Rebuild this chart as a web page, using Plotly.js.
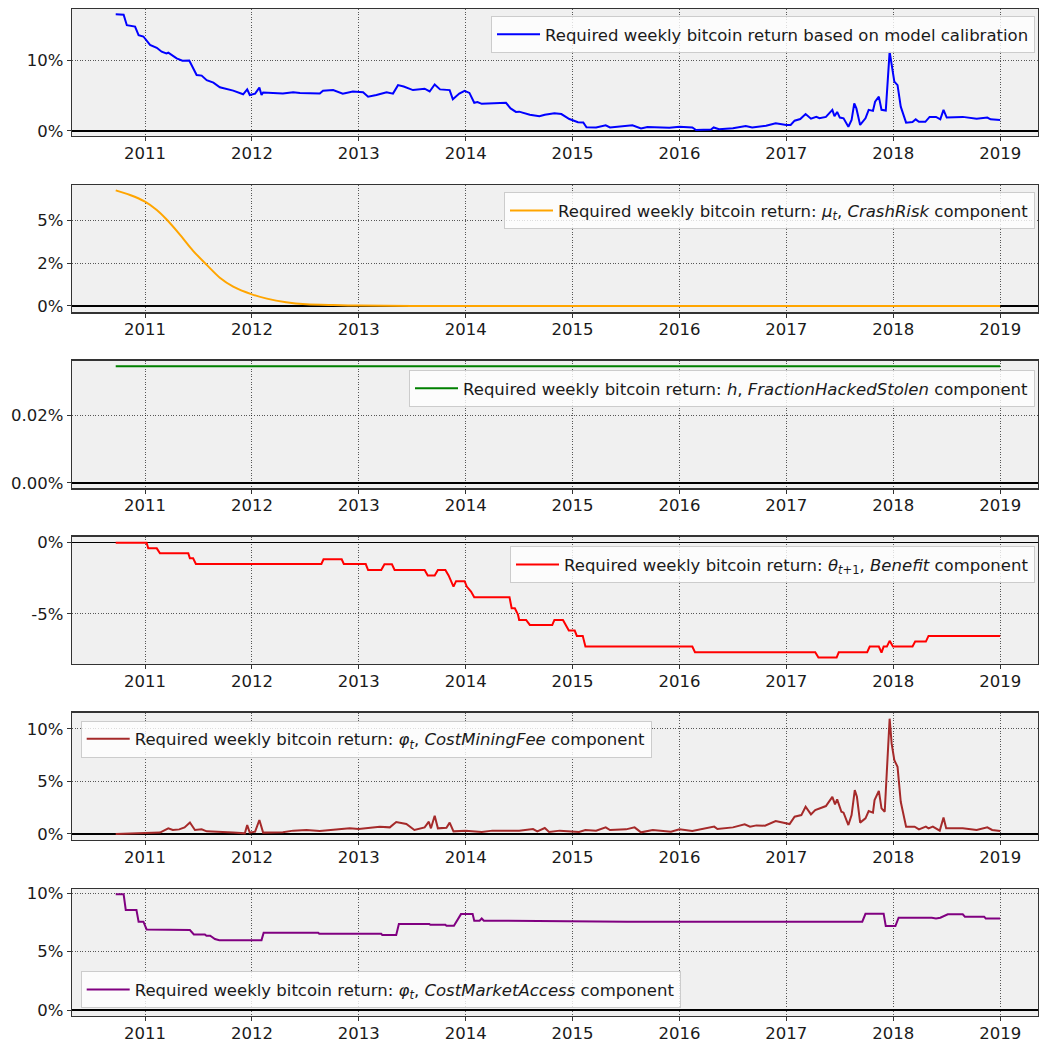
<!DOCTYPE html>
<html>
<head>
<meta charset="utf-8">
<script src="https://cdn.plot.ly/plotly-3.0.1.min.js"></script>
<style>
  html, body { margin: 0; padding: 0; background: #ffffff; }
  #chart { width: 1039px; height: 1043px; }
</style>
</head>
<body>
<div id="chart"></div>
<script>
// ---------- data (values in percent, x in decimal years) ----------
const yearTicks = [2011, 2012, 2013, 2014, 2015, 2016, 2017, 2018, 2019];
const yearLabels = ["2011", "2012", "2013", "2014", "2015", "2016", "2017", "2018", "2019"];

// Panel 1: required weekly bitcoin return based on model calibration
const totalX = [2010.726, 2010.80, 2010.83, 2010.907, 2010.94, 2010.985, 2011.047, 2011.11, 2011.156, 2011.20, 2011.218, 2011.296, 2011.35, 2011.414, 2011.483, 2011.53, 2011.577, 2011.64, 2011.70, 2011.825, 2011.918, 2011.956, 2011.98, 2012.03, 2012.07, 2012.09, 2012.105, 2012.29, 2012.386, 2012.45, 2012.635, 2012.665, 2012.76, 2012.85, 2012.945, 2013.04, 2013.087, 2013.165, 2013.26, 2013.32, 2013.367, 2013.42, 2013.507, 2013.616, 2013.663, 2013.71, 2013.76, 2013.85, 2013.88, 2013.94, 2013.99, 2014.035, 2014.08, 2014.11, 2014.15, 2014.377, 2014.42, 2014.47, 2014.50, 2014.60, 2014.69, 2014.74, 2014.83, 2014.895, 2014.97, 2015.05, 2015.10, 2015.13, 2015.22, 2015.31, 2015.35, 2015.56, 2015.64, 2015.70, 2015.905, 2016.0, 2016.12, 2016.155, 2016.295, 2016.32, 2016.37, 2016.50, 2016.62, 2016.68, 2016.81, 2016.90, 2017.0, 2017.04, 2017.077, 2017.13, 2017.18, 2017.23, 2017.28, 2017.31, 2017.37, 2017.43, 2017.45, 2017.475, 2017.50, 2017.535, 2017.58, 2017.61, 2017.635, 2017.655, 2017.69, 2017.74, 2017.77, 2017.81, 2017.83, 2017.865, 2017.89, 2017.93, 2017.966, 2017.985, 2018.01, 2018.04, 2018.07, 2018.12, 2018.18, 2018.21, 2018.24, 2018.30, 2018.34, 2018.40, 2018.44, 2018.47, 2018.50, 2018.65, 2018.78, 2018.88, 2018.91, 2019.0];
const totalY = [16.55, 16.5, 15.0, 14.8, 13.6, 13.4, 12.2, 11.8, 11.25, 11.0, 11.1, 10.3, 9.97, 10.0, 7.94, 7.85, 7.2, 6.85, 6.2, 5.72, 5.2, 5.9, 5.1, 5.3, 6.15, 5.1, 5.45, 5.3, 5.5, 5.4, 5.3, 5.7, 5.8, 5.3, 5.6, 5.5, 4.87, 5.1, 5.5, 5.3, 6.5, 6.3, 5.8, 6.0, 5.6, 6.6, 5.9, 5.8, 4.5, 5.3, 5.7, 5.4, 4.0, 4.1, 3.85, 4.0, 3.2, 2.7, 2.74, 2.3, 2.1, 2.3, 2.5, 2.4, 1.7, 1.23, 1.2, 0.52, 0.5, 0.8, 0.5, 0.8, 0.35, 0.57, 0.45, 0.6, 0.5, 0.14, 0.2, 0.5, 0.25, 0.4, 0.7, 0.5, 0.75, 1.1, 0.85, 0.85, 1.46, 1.7, 2.4, 1.75, 2.0, 1.8, 2.0, 3.0, 2.1, 2.7, 1.9, 1.8, 0.6, 1.55, 3.9, 3.2, 0.85, 1.8, 3.0, 2.85, 4.15, 4.87, 3.0, 2.9, 11.25, 9.1, 7.0, 6.5, 3.45, 1.18, 1.27, 1.65, 1.3, 1.3, 2.0, 2.0, 1.65, 3.0, 1.9, 2.0, 1.75, 1.9, 1.65, 1.55];

// Panel 2: mu_t, CrashRisk component
const crashX = [2010.726, 2010.86, 2011.0, 2011.11, 2011.2, 2011.33, 2011.45, 2011.577, 2011.70, 2011.825, 2012.0, 2012.14, 2012.32, 2012.51, 2012.76, 2013.0, 2013.5, 2019.0];
const crashY = [6.75, 6.48, 6.09, 5.6, 5.06, 4.14, 3.22, 2.40, 1.65, 1.13, 0.68, 0.43, 0.22, 0.1, 0.05, 0.02, 0.005, 0.0];

// Panel 3: h, FractionHackedStolen component
const hackX = [2010.726, 2019.0];
const hackY = [0.0346, 0.0346];

// Panel 4: theta_{t+1}, Benefit component
const benefitX = [2010.726, 2011.015, 2011.03, 2011.11, 2011.14, 2011.405, 2011.42, 2011.45, 2011.476, 2012.65, 2012.67, 2012.84, 2012.86, 2013.065, 2013.087, 2013.21, 2013.24, 2013.31, 2013.335, 2013.616, 2013.645, 2013.71, 2013.74, 2013.81, 2013.84, 2013.86, 2013.886, 2013.91, 2013.99, 2014.01, 2014.05, 2014.08, 2014.41, 2014.43, 2014.46, 2014.49, 2014.50, 2014.565, 2014.60, 2014.81, 2014.83, 2014.91, 2014.94, 2014.965, 2015.02, 2015.04, 2015.095, 2015.12, 2016.12, 2016.145, 2017.27, 2017.30, 2017.47, 2017.49, 2017.756, 2017.78, 2017.865, 2017.89, 2017.91, 2017.94, 2017.966, 2017.997, 2018.18, 2018.205, 2018.305, 2018.33, 2019.0];
const benefitY = [0, 0, -0.4, -0.4, -0.75, -0.75, -1.1, -1.1, -1.5, -1.5, -1.17, -1.17, -1.5, -1.5, -1.92, -1.92, -1.52, -1.52, -1.92, -1.92, -2.31, -2.31, -1.92, -1.92, -2.3, -2.6, -3.08, -2.7, -2.7, -3.08, -3.43, -3.83, -3.83, -4.6, -4.6, -5.07, -5.42, -5.42, -5.77, -5.77, -5.42, -5.42, -5.84, -6.17, -6.17, -6.54, -6.54, -7.29, -7.29, -7.69, -7.69, -8.06, -8.06, -7.69, -7.69, -7.29, -7.29, -7.71, -7.29, -7.29, -6.89, -7.29, -7.29, -6.94, -6.94, -6.54, -6.54];

// Panel 5: phi_t, CostMiningFee component
const feeX = [2010.726, 2010.985, 2011.14, 2011.218, 2011.26, 2011.32, 2011.37, 2011.42, 2011.467, 2011.53, 2011.577, 2011.825, 2011.934, 2011.956, 2011.98, 2012.03, 2012.07, 2012.105, 2012.29, 2012.386, 2012.51, 2012.635, 2012.76, 2012.915, 2013.0, 2013.08, 2013.196, 2013.29, 2013.35, 2013.445, 2013.52, 2013.616, 2013.655, 2013.675, 2013.71, 2013.74, 2013.82, 2013.85, 2013.886, 2014.0, 2014.15, 2014.25, 2014.47, 2014.50, 2014.63, 2014.67, 2014.74, 2014.78, 2014.88, 2015.06, 2015.12, 2015.22, 2015.31, 2015.35, 2015.50, 2015.58, 2015.64, 2015.75, 2015.92, 2016.0, 2016.12, 2016.245, 2016.325, 2016.355, 2016.50, 2016.61, 2016.66, 2016.72, 2016.80, 2016.90, 2016.985, 2017.03, 2017.077, 2017.14, 2017.18, 2017.23, 2017.27, 2017.37, 2017.43, 2017.455, 2017.475, 2017.515, 2017.535, 2017.58, 2017.61, 2017.64, 2017.66, 2017.69, 2017.74, 2017.77, 2017.81, 2017.825, 2017.865, 2017.89, 2017.92, 2017.966, 2017.985, 2018.01, 2018.04, 2018.07, 2018.12, 2018.20, 2018.24, 2018.305, 2018.33, 2018.37, 2018.435, 2018.47, 2018.495, 2018.65, 2018.78, 2018.88, 2018.925, 2019.0];
const feeY = [0, 0.06, 0.13, 0.54, 0.38, 0.44, 0.63, 1.1, 0.38, 0.44, 0.25, 0.13, 0.06, 0.85, 0.13, 0.22, 1.33, 0.13, 0.16, 0.32, 0.38, 0.28, 0.38, 0.54, 0.47, 0.54, 0.7, 0.63, 1.14, 0.95, 0.38, 0.63, 1.17, 0.54, 1.74, 0.54, 0.6, 1.08, 0.25, 0.32, 0.19, 0.32, 0.28, 0.32, 0.47, 0.25, 0.57, 0.19, 0.32, 0.19, 0.38, 0.32, 0.63, 0.38, 0.44, 0.63, 0.16, 0.38, 0.22, 0.44, 0.28, 0.5, 0.7, 0.47, 0.63, 0.92, 0.7, 0.82, 0.79, 1.23, 1.01, 0.95, 1.65, 1.8, 2.6, 1.87, 2.28, 2.66, 3.54, 2.82, 3.29, 2.12, 2.03, 0.85, 1.8, 4.18, 3.54, 1.08, 1.49, 2.18, 2.03, 3.23, 4.11, 2.44, 2.12, 10.98, 8.6, 7.03, 6.39, 3.07, 0.7, 0.7, 0.44, 0.7, 0.54, 0.7, 0.32, 1.58, 0.54, 0.54, 0.38, 0.63, 0.38, 0.28];

// Panel 6: phi_t, CostMarketAccess component
const accessX = [2010.726, 2010.80, 2010.82, 2010.92, 2010.94, 2010.985, 2011.015, 2011.23, 2011.24, 2011.42, 2011.457, 2011.56, 2011.575, 2011.61, 2011.654, 2011.695, 2012.09, 2012.11, 2012.62, 2012.63, 2013.21, 2013.22, 2013.35, 2013.375, 2013.66, 2013.67, 2013.81, 2013.82, 2013.89, 2013.925, 2013.956, 2014.065, 2014.08, 2014.13, 2014.15, 2014.17, 2015.5, 2015.51, 2017.71, 2017.74, 2017.91, 2017.93, 2018.02, 2018.05, 2018.36, 2018.40, 2018.44, 2018.51, 2018.65, 2018.67, 2018.85, 2018.865, 2019.0];
const accessY = [9.89, 9.89, 8.55, 8.55, 7.55, 7.55, 6.89, 6.89, 6.84, 6.84, 6.47, 6.47, 6.35, 6.35, 6.07, 5.98, 5.98, 6.61, 6.61, 6.52, 6.52, 6.41, 6.41, 7.35, 7.35, 7.29, 7.29, 7.21, 7.21, 7.69, 8.2, 8.2, 7.64, 7.64, 7.83, 7.64, 7.6, 7.55, 7.55, 8.23, 8.23, 7.18, 7.18, 7.89, 7.89, 7.83, 7.89, 8.18, 8.18, 7.98, 7.98, 7.83, 7.83];

// Series names, colours and y tick labels
const seriesNames = [
  "Required weekly bitcoin return based on model calibration",
  "Required weekly bitcoin return: <i>μ</i><sub><i>t</i></sub>, <i>CrashRisk</i> component",
  "Required weekly bitcoin return: <i>h</i>, <i>FractionHackedStolen</i> component",
  "Required weekly bitcoin return: <i>θ</i><sub><i>t</i>+1</sub>, <i>Benefit</i> component",
  "Required weekly bitcoin return: <i>φ</i><sub><i>t</i></sub>, <i>CostMiningFee</i> component",
  "Required weekly bitcoin return: <i>φ</i><sub><i>t</i></sub>, <i>CostMarketAccess</i> component"
];
const seriesColors = ["#0000ff", "#ffa500", "#008000", "#ff0000", "#a52a2a", "#800080"];

const yTickVals = [[0, 10], [0, 2.5, 5], [0, 0.02], [0, -5], [0, 5, 10], [0, 5, 10]];
const yTickText = [["0%", "10%"], ["0%", "2%", "5%"], ["0.00%", "0.02%"], ["0%", "-5%"], ["0%", "5%", "10%"], ["0%", "5%", "10%"]];

// ---------- layout / styling ----------
const xs = [totalX, crashX, hackX, benefitX, feeX, accessX];
const ys = [totalY, crashY, hackY, benefitY, feeY, accessY];

const yDomains = [[0.8739, 1.0], [0.6988, 0.8252], [0.5240, 0.6507], [0.3496, 0.4760], [0.1748, 0.3012], [0.0, 0.1261]];
const yRanges = [[-0.71, 17.30], [-0.37, 7.06], [-0.00166, 0.0362], [-8.51, 0.42], [-0.57, 11.55], [-0.49, 10.34]];
const xRange = [2010.317, 2019.354];

const FONT = "DejaVu Sans, Liberation Sans, sans-serif";
const FS = 16.5;

const traces = [];
const layout = {
  width: 1039, height: 1043,
  margin: { l: 72, r: 1, t: 9, b: 27, pad: 0 },
  paper_bgcolor: "#ffffff",
  plot_bgcolor: "#f0f0f0",
  font: { family: FONT, size: FS, color: "#1a1a1a" },
  showlegend: true
};

const legendPos = [
  { x: 0.9969, y: 0.993, xanchor: "right", yanchor: "top" },
  { x: 0.9969, y: 0.818, xanchor: "right", yanchor: "top" },
  { x: 0.9969, y: 0.6415, xanchor: "right", yanchor: "top" },
  { x: 0.9969, y: 0.4665, xanchor: "right", yanchor: "top" },
  { x: 0.009, y: 0.2933, xanchor: "left", yanchor: "top" },
  { x: 0.009, y: 0.0076, xanchor: "left", yanchor: "bottom" }
];

for (let i = 0; i < 6; i++) {
  const sfx = i === 0 ? "" : String(i + 1);
  const legKey = "legend" + sfx;
  traces.push({
    type: "scatter", mode: "lines",
    x: xs[i], y: ys[i],
    name: seriesNames[i],
    line: { color: seriesColors[i], width: 2, shape: i === 1 ? "spline" : "linear", smoothing: 0.8 },
    xaxis: "x" + sfx, yaxis: "y" + sfx,
    legend: legKey,
    hoverinfo: "skip"
  });

  layout["xaxis" + sfx] = {
    anchor: "y" + sfx,
    domain: [0, 1],
    range: xRange,
    tickmode: "array", tickvals: yearTicks, ticktext: yearLabels,
    showgrid: true, gridcolor: "rgba(0,0,0,0.8)", gridwidth: 0.8, griddash: "1px,1.6px",
    zeroline: false,
    ticks: "outside", ticklen: 4, tickwidth: 1, tickcolor: "#333",
    ticklabelstandoff: -2,
    showline: true, mirror: true, linecolor: "#333", linewidth: 1.3,
    tickfont: { family: FONT, size: FS, color: "#1a1a1a" },
    fixedrange: true
  };
  layout["yaxis" + sfx] = {
    anchor: "x" + sfx,
    domain: yDomains[i],
    range: yRanges[i],
    tickmode: "array", tickvals: yTickVals[i], ticktext: yTickText[i],
    showgrid: true, gridcolor: "rgba(0,0,0,0.8)", gridwidth: 0.8, griddash: "1px,1.6px",
    zeroline: true, zerolinecolor: "#000000", zerolinewidth: 1.6,
    ticks: "outside", ticklen: 4, tickwidth: 1, tickcolor: "#333",
    showline: true, mirror: true, linecolor: "#333", linewidth: 1.3,
    tickfont: { family: FONT, size: FS, color: "#1a1a1a" },
    fixedrange: true
  };
  layout[legKey] = Object.assign({
    xref: "paper", yref: "paper",
    bgcolor: "rgba(255,255,255,0.8)",
    bordercolor: "#cccccc", borderwidth: 1,
    itemwidth: 43,
    font: { family: FONT, size: FS, color: "#1a1a1a" },
    tracegroupgap: 0
  }, legendPos[i]);
}

Plotly.newPlot("chart", traces, layout, { displayModeBar: false, staticPlot: true });
</script>
</body>
</html>
